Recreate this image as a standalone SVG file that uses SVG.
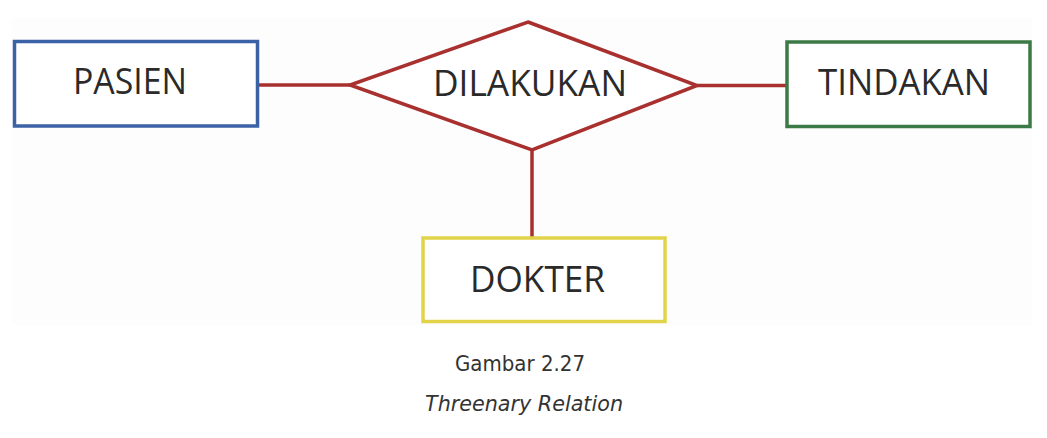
<svg xmlns="http://www.w3.org/2000/svg" width="1047" height="438" viewBox="0 0 1047 438">
<style>
.box{fill:#ffffff;stroke-width:3.5}
.lbl{font-family:"Open Sans","DejaVu Sans",sans-serif;font-size:36px;fill:#2a2a2a;text-anchor:middle}
.rel{stroke:#a8302e;stroke-width:3.5;fill:none}
.cap{font-family:"DejaVu Sans","Liberation Sans",sans-serif;font-size:21px;fill:#333333;text-anchor:middle}
</style>
<rect x="0" y="0" width="1047" height="438" fill="#ffffff"/>
<rect x="12" y="18" width="1020" height="307" fill="#fdfdfd"/>
<g id="connectors">
<line class="rel" x1="258" y1="85" x2="350" y2="85"/>
<line class="rel" x1="697" y1="85.5" x2="787" y2="85.5"/>
<line class="rel" x1="532" y1="150" x2="532" y2="238"/>
</g>
<g id="pasien">
<rect class="box" x="14.5" y="41.5" width="243" height="84.5" stroke="#3c62a6"/>
<text class="lbl" x="130" y="94" textLength="114" lengthAdjust="spacingAndGlyphs">PASIEN</text>
</g>
<g id="dilakukan">
<polygon points="528,22 697,85.5 532,150 350,85" fill="#ffffff" stroke="#a8302e" stroke-width="3.5" stroke-linejoin="miter"/>
<text class="lbl" x="530" y="96" textLength="194" lengthAdjust="spacingAndGlyphs">DILAKUKAN</text>
</g>
<g id="tindakan">
<rect class="box" x="787" y="42" width="243" height="84.5" stroke="#3b7a46"/>
<text class="lbl" x="904" y="95" textLength="172" lengthAdjust="spacingAndGlyphs">TINDAKAN</text>
</g>
<g id="dokter">
<rect class="box" x="423" y="238" width="242" height="83.5" stroke="#e2d44a"/>
<text class="lbl" x="537.5" y="291.5" textLength="135" lengthAdjust="spacingAndGlyphs">DOKTER</text>
</g>
<g id="caption">
<text class="cap" x="520" y="371" textLength="130" lengthAdjust="spacingAndGlyphs">Gambar 2.27</text>
<text class="cap" x="524" y="411" font-style="italic" textLength="198" lengthAdjust="spacingAndGlyphs">Threenary Relation</text>
</g>
</svg>
